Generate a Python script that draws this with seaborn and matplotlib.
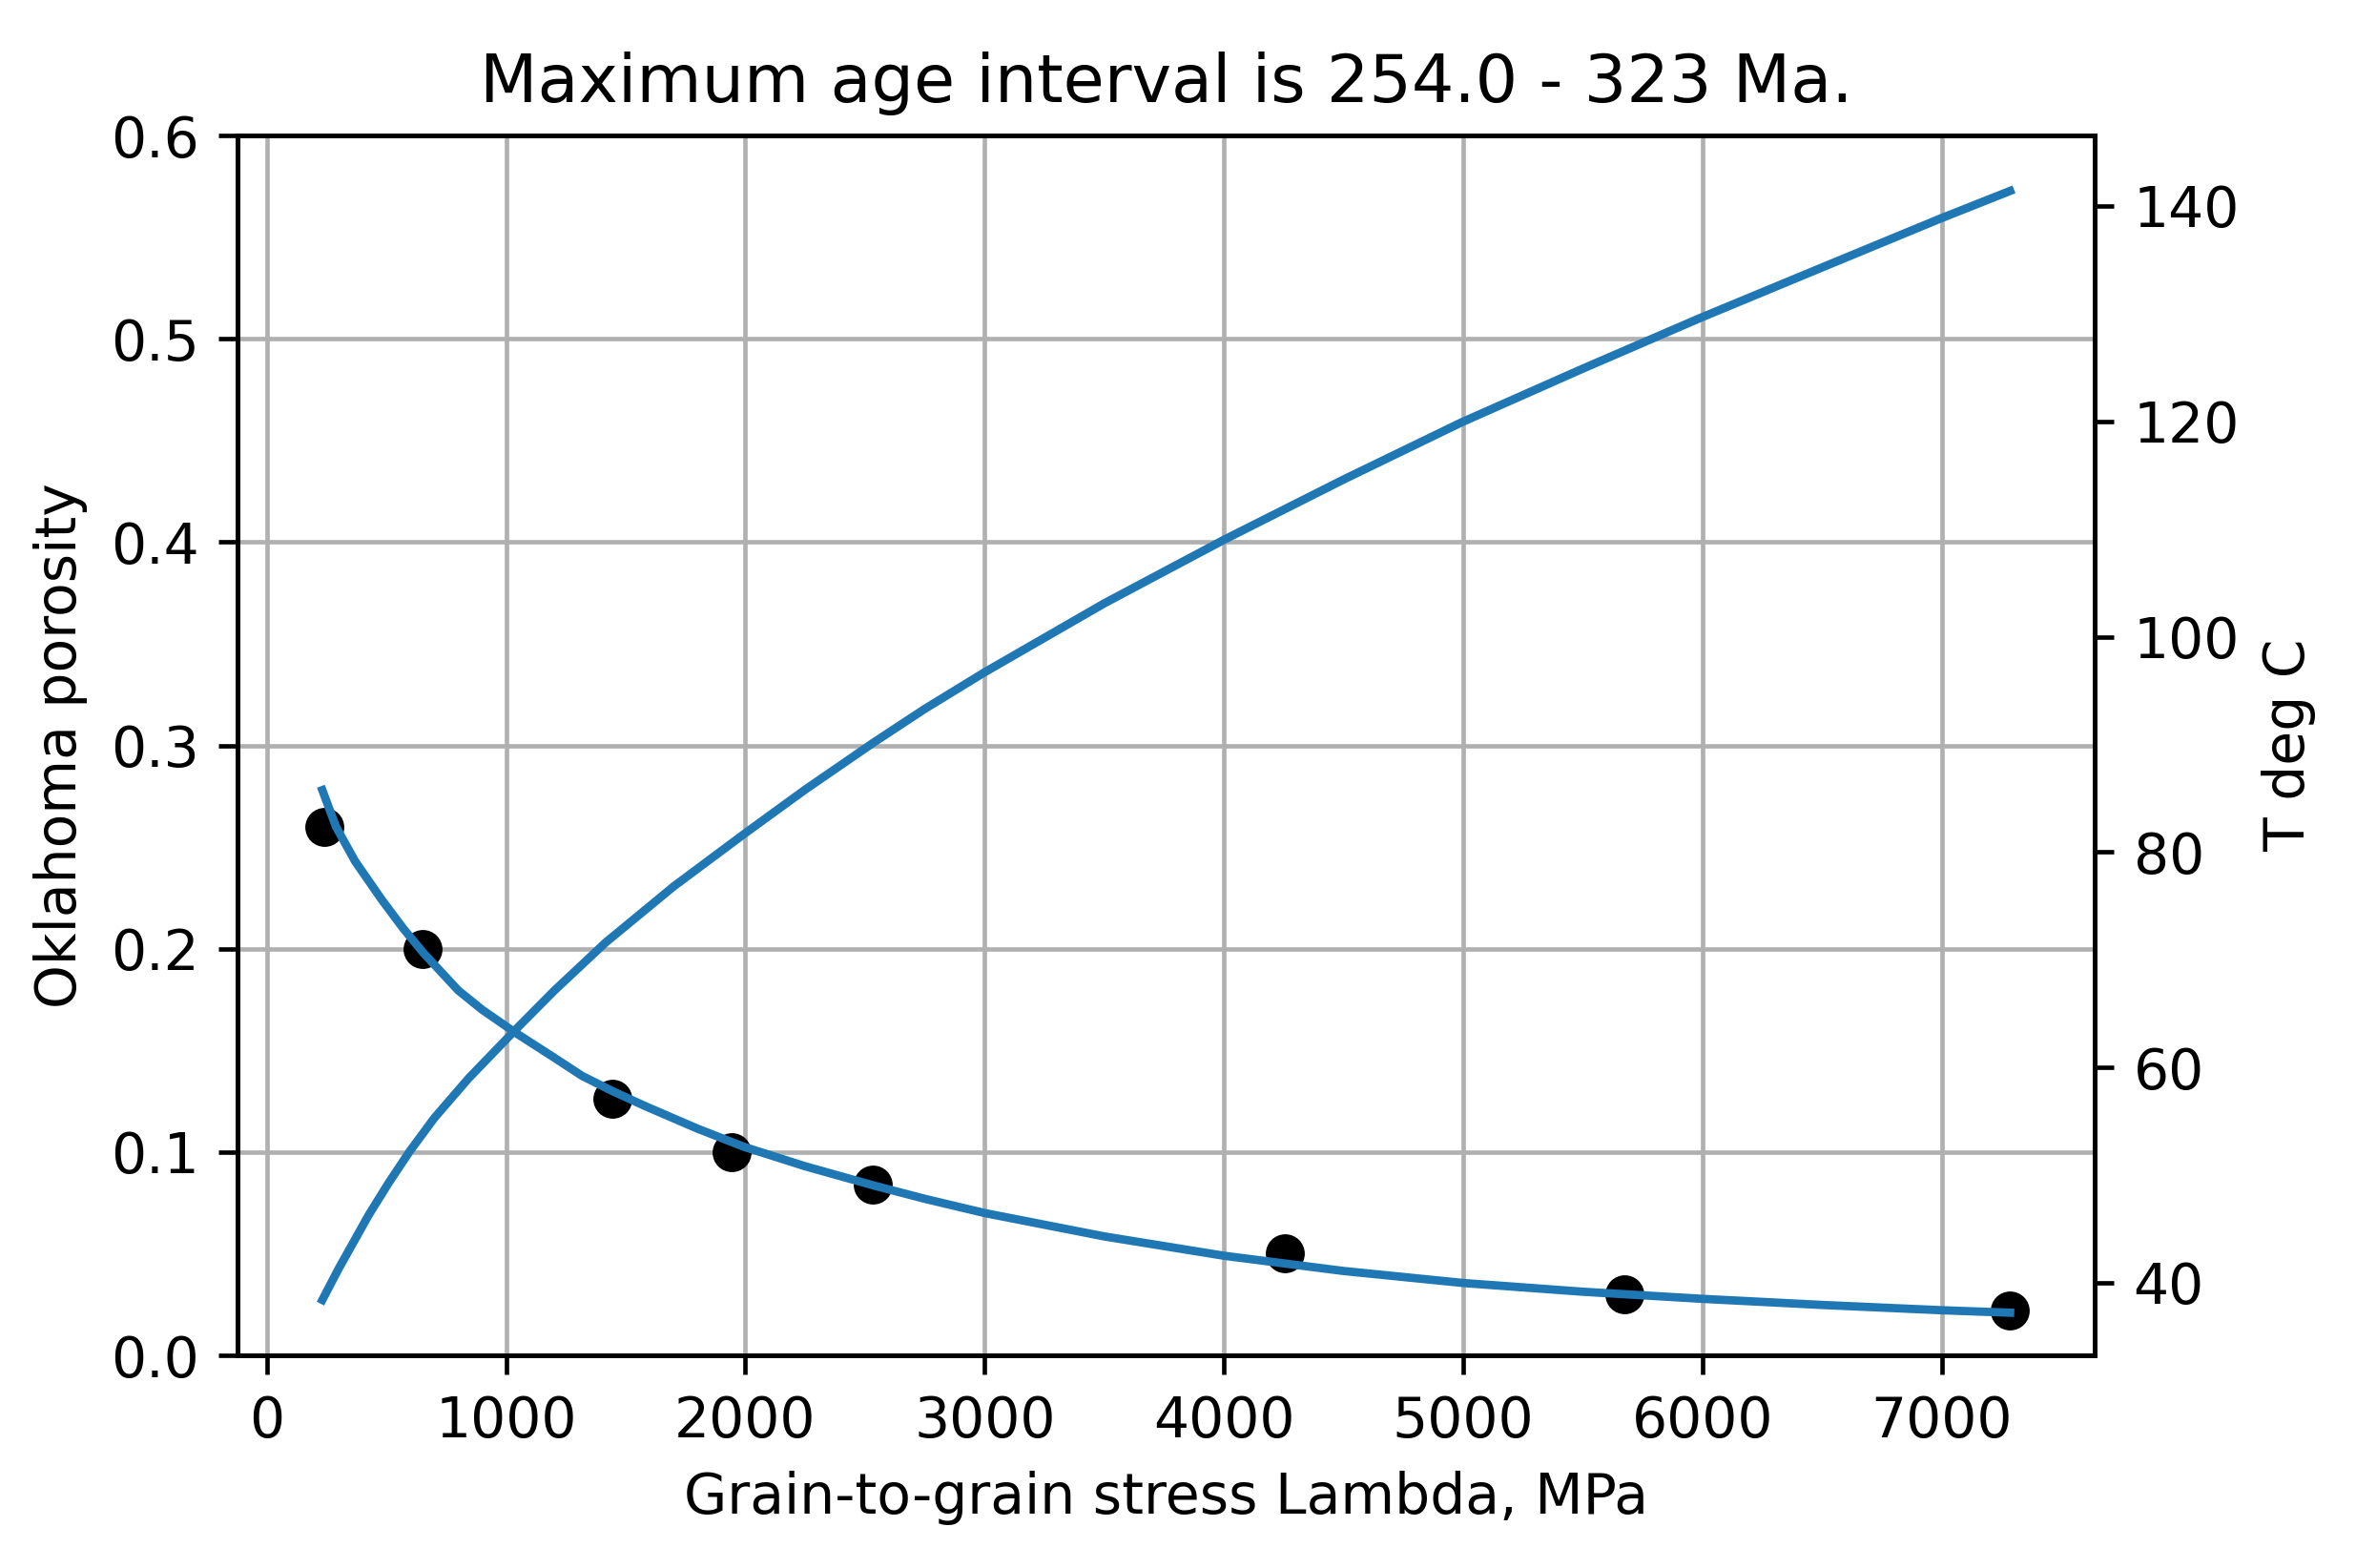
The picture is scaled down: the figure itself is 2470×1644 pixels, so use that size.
import matplotlib
matplotlib.use("Agg")
import matplotlib.pyplot as plt
import seaborn as sns
import pandas as pd

# Measured data points (porosity vs grain-to-grain stress)
stress_pts = [241, 650, 1444, 1943, 2533, 4256, 5675, 7285]
porosity_pts = [0.260, 0.200, 0.126, 0.100, 0.084, 0.050, 0.030, 0.022]

# Porosity fit curve
fit_x = [232, 289, 369, 481, 570, 654, 800, 900, 1035, 1200, 1317, 1444, 1583, 1800,
         1996, 2250, 2538, 2750, 3000, 3500, 4000, 4500, 5000, 5500, 6000, 6500, 7000, 7285]
fit_phi = [0.278, 0.260, 0.243, 0.224, 0.210, 0.198, 0.1795, 0.170, 0.159, 0.1465, 0.1375,
           0.130, 0.1225, 0.1115, 0.1025, 0.093, 0.0835, 0.077, 0.070, 0.0585, 0.049,
           0.0415, 0.0356, 0.0313, 0.0278, 0.0248, 0.0222, 0.0210]

# Temperature curve
temp_x = [232, 300, 426, 510, 597, 700, 844, 1035, 1200, 1416, 1700, 1996, 2250, 2538,
          2750, 3000, 3500, 4000, 4500, 4992, 5500, 5990, 6500, 6990, 7285]
temp_c = [38.4, 41.3, 46.3, 49.3, 52.2, 55.3, 59.0, 63.4, 67.1, 71.6, 76.8, 81.7, 85.8,
          90.2, 93.3, 96.7, 103.1, 109.0, 114.6, 119.9, 124.9, 129.6, 134.3, 138.8, 141.4]

title = "Maximum age interval is 254.0 - 323 Ma."
xlabel = "Grain-to-grain stress Lambda, MPa"
ylabel_left = "Oklahoma porosity"
ylabel_right = "T deg C"

plt.rcParams["font.family"] = ["DejaVu Sans"]

DPI = 420
fig = plt.figure(figsize=(2470 / DPI, 1644 / DPI), dpi=DPI)
ax = fig.add_axes([0.1010, 0.1356, 0.7880, 0.7780])

pts = pd.DataFrame({"x": stress_pts, "y": porosity_pts})
fit = pd.DataFrame({"x": fit_x, "y": fit_phi})
tdf = pd.DataFrame({"x": temp_x, "y": temp_c})

sns.scatterplot(data=pts, x="x", y="y", ax=ax, color="black", edgecolor="black",
                s=36, linewidth=1.0, zorder=2, legend=False)
sns.lineplot(data=fit, x="x", y="y", ax=ax, color="#1f77b4", linewidth=1.5,
             sort=False, zorder=2.1, legend=False)
ax.set_ylim(0, 0.6)
ax.grid(True, color="#b0b0b0", linewidth=0.8)
ax.set_axisbelow("line")
ax.set_xlabel(xlabel, fontsize=10)
ax.set_ylabel(ylabel_left, fontsize=10)
ax.set_title(title, fontsize=12)
ax.tick_params(labelsize=10)

ax2 = ax.twinx()
sns.lineplot(data=tdf, x="x", y="y", ax=ax2, color="#1f77b4", linewidth=1.5,
             sort=False, legend=False)
ax2.set_ylabel(ylabel_right, fontsize=10)
ax2.set_xlabel("")
ax2.tick_params(labelsize=10)
ax2.set_yticks([40, 60, 80, 100, 120, 140])

fig.savefig("out.png", dpi=DPI)
